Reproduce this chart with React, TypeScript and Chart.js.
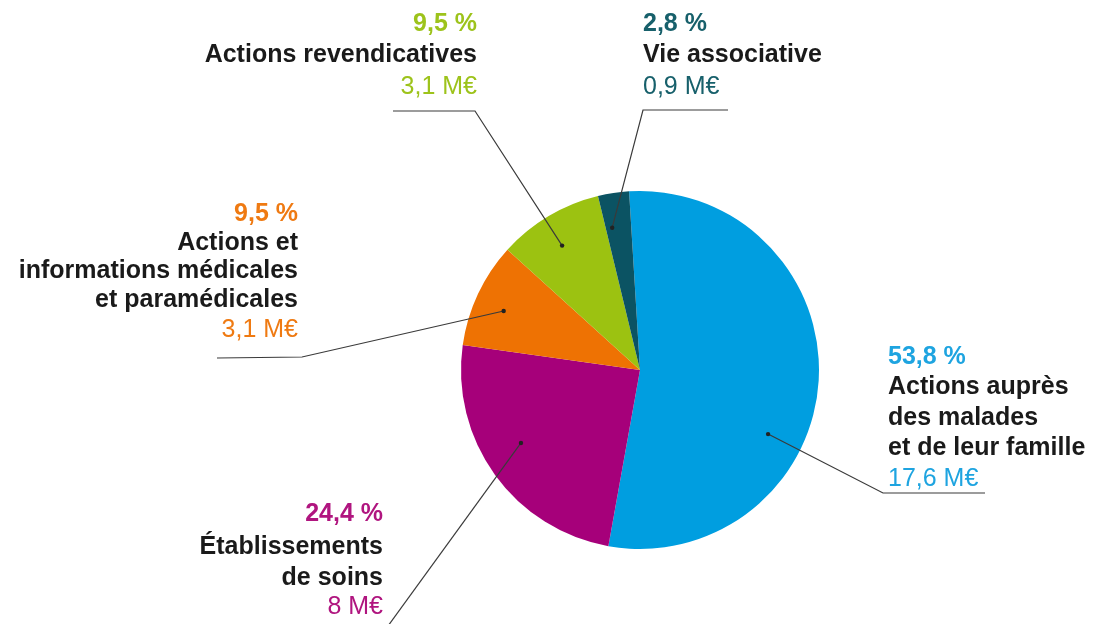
import React, { useEffect, useRef } from "react";
import { Chart, registerables } from "chart.js";

Chart.register(...registerables);

const categories: string[][] = [
  ["Actions auprès", "des malades", "et de leur famille"],
  ["Établissements", "de soins"],
  ["Actions et", "informations médicales", "et paramédicales"],
  ["Actions revendicatives"],
  ["Vie associative"],
];
const shares = [53.8, 24.4, 9.5, 9.5, 2.8];
const amounts = ["17,6 M€", "8 M€", "3,1 M€", "3,1 M€", "0,9 M€"];
const sliceColors = ["#009ee0", "#a6007a", "#ee7203", "#9cc211", "#0b5363"];
const textColors = ["#1ea4e0", "#b0157f", "#ef7a12", "#9dc31b", "#17606b"];

const FONT = '"Liberation Sans", Arial, sans-serif';

// label layout (annotation placement, not data)
const labelLayout = [
  { f: 0.62, r: 0.8, path: [[883, 493], [985, 493]], align: "left", x: 888, ys: [357, 387, 418, 448, 479] },
  { f: 0.55, r: 0.78, path: [[388, 626]], align: "right", x: 383, ys: [514, 547, 578, 607] },
  { f: 0.45, r: 0.83, path: [[302, 357], [217, 358]], align: "right", x: 298, ys: [214, 243, 271, 300, 330] },
  { f: 0.46, r: 0.82, path: [[475, 111], [393, 111]], align: "right", x: 477, ys: [24, 55, 87] },
  { f: 0.25, r: 0.81, path: [[643, 110], [728, 110]], align: "left", x: 643, ys: [24, 55, 87] },
];

const fmtPct = (v: number) => v.toFixed(1).replace(".", ",") + " %";

const leaderPlugin = {
  id: "leaderLabels",
  afterDraw(chart: any) {
    const ctx = chart.ctx;
    const meta = chart.getDatasetMeta(0);
    meta.data.forEach((arc: any, i: number) => {
      const L = labelLayout[i];
      const { x, y, startAngle, endAngle, outerRadius } = arc.getProps(
        ["x", "y", "startAngle", "endAngle", "outerRadius"],
        true
      );
      const a = startAngle + L.f * (endAngle - startAngle);
      const dx = x + Math.cos(a) * outerRadius * L.r;
      const dy = y + Math.sin(a) * outerRadius * L.r;
      ctx.save();
      ctx.strokeStyle = "#3a3a3a";
      ctx.lineWidth = 1.2;
      ctx.beginPath();
      ctx.moveTo(dx, dy);
      L.path.forEach((p) => ctx.lineTo(p[0], p[1]));
      ctx.stroke();
      ctx.fillStyle = "#222";
      ctx.beginPath();
      ctx.arc(dx, dy, 2.2, 0, Math.PI * 2);
      ctx.fill();

      const lines: { t: string; c: string; w: string }[] = [
        { t: fmtPct(shares[i]), c: textColors[i], w: "bold" },
        ...categories[i].map((t) => ({ t, c: "#1a1a1a", w: "bold" })),
        { t: amounts[i], c: textColors[i], w: "normal" },
      ];
      ctx.textAlign = L.align;
      ctx.textBaseline = "middle";
      lines.forEach((ln, k) => {
        ctx.font = `${ln.w} 25px ${FONT}`;
        ctx.fillStyle = ln.c;
        ctx.fillText(ln.t, L.x, L.ys[k]);
      });
      ctx.restore();
    });
  },
};

export default function App() {
  const ref = useRef<HTMLCanvasElement>(null);
  useEffect(() => {
    if (!ref.current) return;
    const chart = new Chart(ref.current, {
      type: "pie",
      data: {
        labels: categories.map((c) => c.join(" ")),
        datasets: [
          {
            data: shares,
            backgroundColor: sliceColors,
            borderWidth: 0,
          },
        ],
      },
      options: {
        responsive: false,
        animation: false,
        rotation: -3.5,
        layout: { padding: { top: 191, bottom: 75, left: 461, right: 275 } },
        plugins: { legend: { display: false }, tooltip: { enabled: false } },
      },
      plugins: [leaderPlugin],
    });
    return () => chart.destroy();
  }, []);
  return (
    <div style={{ position: "fixed", left: 0, top: 0, width: 1094, height: 624, background: "#fff" }}>
      <canvas ref={ref} width={1094} height={624} />
    </div>
  );
}
